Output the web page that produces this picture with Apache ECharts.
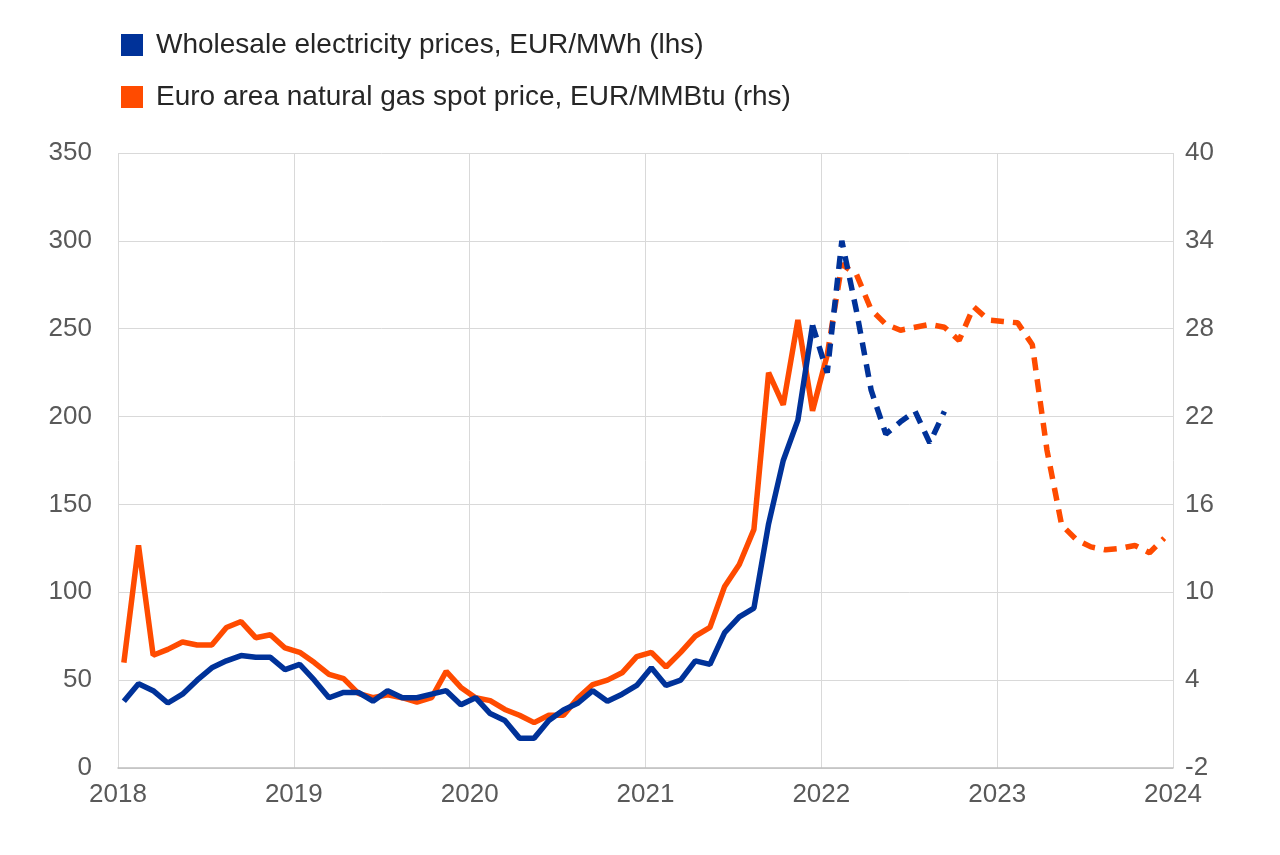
<!DOCTYPE html>
<html><head><meta charset="utf-8">
<script src="https://cdn.jsdelivr.net/npm/echarts@6/dist/echarts.min.js"></script>
<style>html,body{margin:0;background:#fff}#c{width:1280px;height:855px}</style>
</head><body><div id="c"></div>
<script>
const startYear = 2018;
const elecSolid = [38,48,44,37,42,50,57,61,64,63,63,56,59,50,40,43,43,38,44,40,40,42,44,36,40,31,27,17,17,27,33,37,44,38,42,47,57,47,50,61,59,77,86,91,139,175,198,252];
const elecDash = [252,225,300,260,215,190,197,203,185,203];
const gasSolid = [5.2,13.2,5.7,6.1,6.6,6.4,6.4,7.6,8.0,6.9,7.1,6.2,5.9,5.2,4.4,4.1,3.1,2.8,3.0,2.8,2.5,2.8,4.6,3.5,2.8,2.6,2.0,1.6,1.1,1.6,1.6,2.8,3.7,4.0,4.5,5.6,5.9,4.9,5.9,7.0,7.6,10.4,11.9,14.3,25.0,22.8,28.6,22.4,26.2];
const gasDash = [26.2,32.4,31.7,29.3,28.3,27.9,28.1,28.3,28.1,27.2,29.5,28.6,28.5,28.4,26.9,19.7,14.6,13.6,13.1,12.9,13.0,13.2,12.7,13.7];
const leftTicks = {min:0,max:350,interval:50};
const rightTicks = {min:-2,max:40,interval:6};
const names = ['Wholesale electricity prices, EUR/MWh (lhs)','Euro area natural gas spot price, EUR/MMBtu (rhs)'];
const BLUE='#003299', ORANGE='#FF4B00';
const toPts=(arr,offset)=>arr.map((v,i)=>[startYear+(i+offset+0.4)/12,v]);
const chart=echarts.init(document.getElementById('c'));
const lbl={color:'#595959',fontSize:26,fontFamily:'Liberation Sans, Arial'};
function line(name,data,color,yi,dash){return{name,type:'line',data,yAxisIndex:yi,symbol:'none',lineStyle:{color,width:5.5,type:dash?[13,9]:'solid'},itemStyle:{color},z:yi?3:4};}
chart.setOption({
 animation:false,
 legend:{orient:'vertical',left:116,top:26,itemGap:24,itemWidth:22,itemHeight:22,icon:'rect',
  textStyle:{color:'#262626',fontSize:28,fontFamily:'Liberation Sans, Arial',padding:[0,0,0,8]},
  data:[{name:names[0],itemStyle:{color:BLUE}},{name:names[1],itemStyle:{color:ORANGE}}]},
 grid:{left:118,right:107,top:153,bottom:87},
 xAxis:{type:'value',min:2018,max:2024,interval:1,
  axisLine:{lineStyle:{color:'#bfbfbf',width:1.5}},axisTick:{show:false},
  splitLine:{show:true,lineStyle:{color:'#d9d9d9'}},
  axisLabel:Object.assign({margin:14,formatter:v=>String(v)},lbl)},
 yAxis:[
  Object.assign({type:'value',axisLine:{show:false},axisTick:{show:false},splitLine:{lineStyle:{color:'#d9d9d9'}},axisLabel:Object.assign({margin:26},lbl)},leftTicks),
  Object.assign({type:'value',position:'right',axisLine:{show:false},axisTick:{show:false},splitLine:{show:false},axisLabel:Object.assign({margin:12},lbl)},rightTicks)
 ],
 series:[
  line(names[1],toPts(gasSolid,0),ORANGE,1,false),
  line(names[1],toPts(gasDash,48),ORANGE,1,true),
  line(names[0],toPts(elecSolid,0),BLUE,0,false),
  line(names[0],toPts(elecDash,47),BLUE,0,true)
 ]
});
</script></body></html>
